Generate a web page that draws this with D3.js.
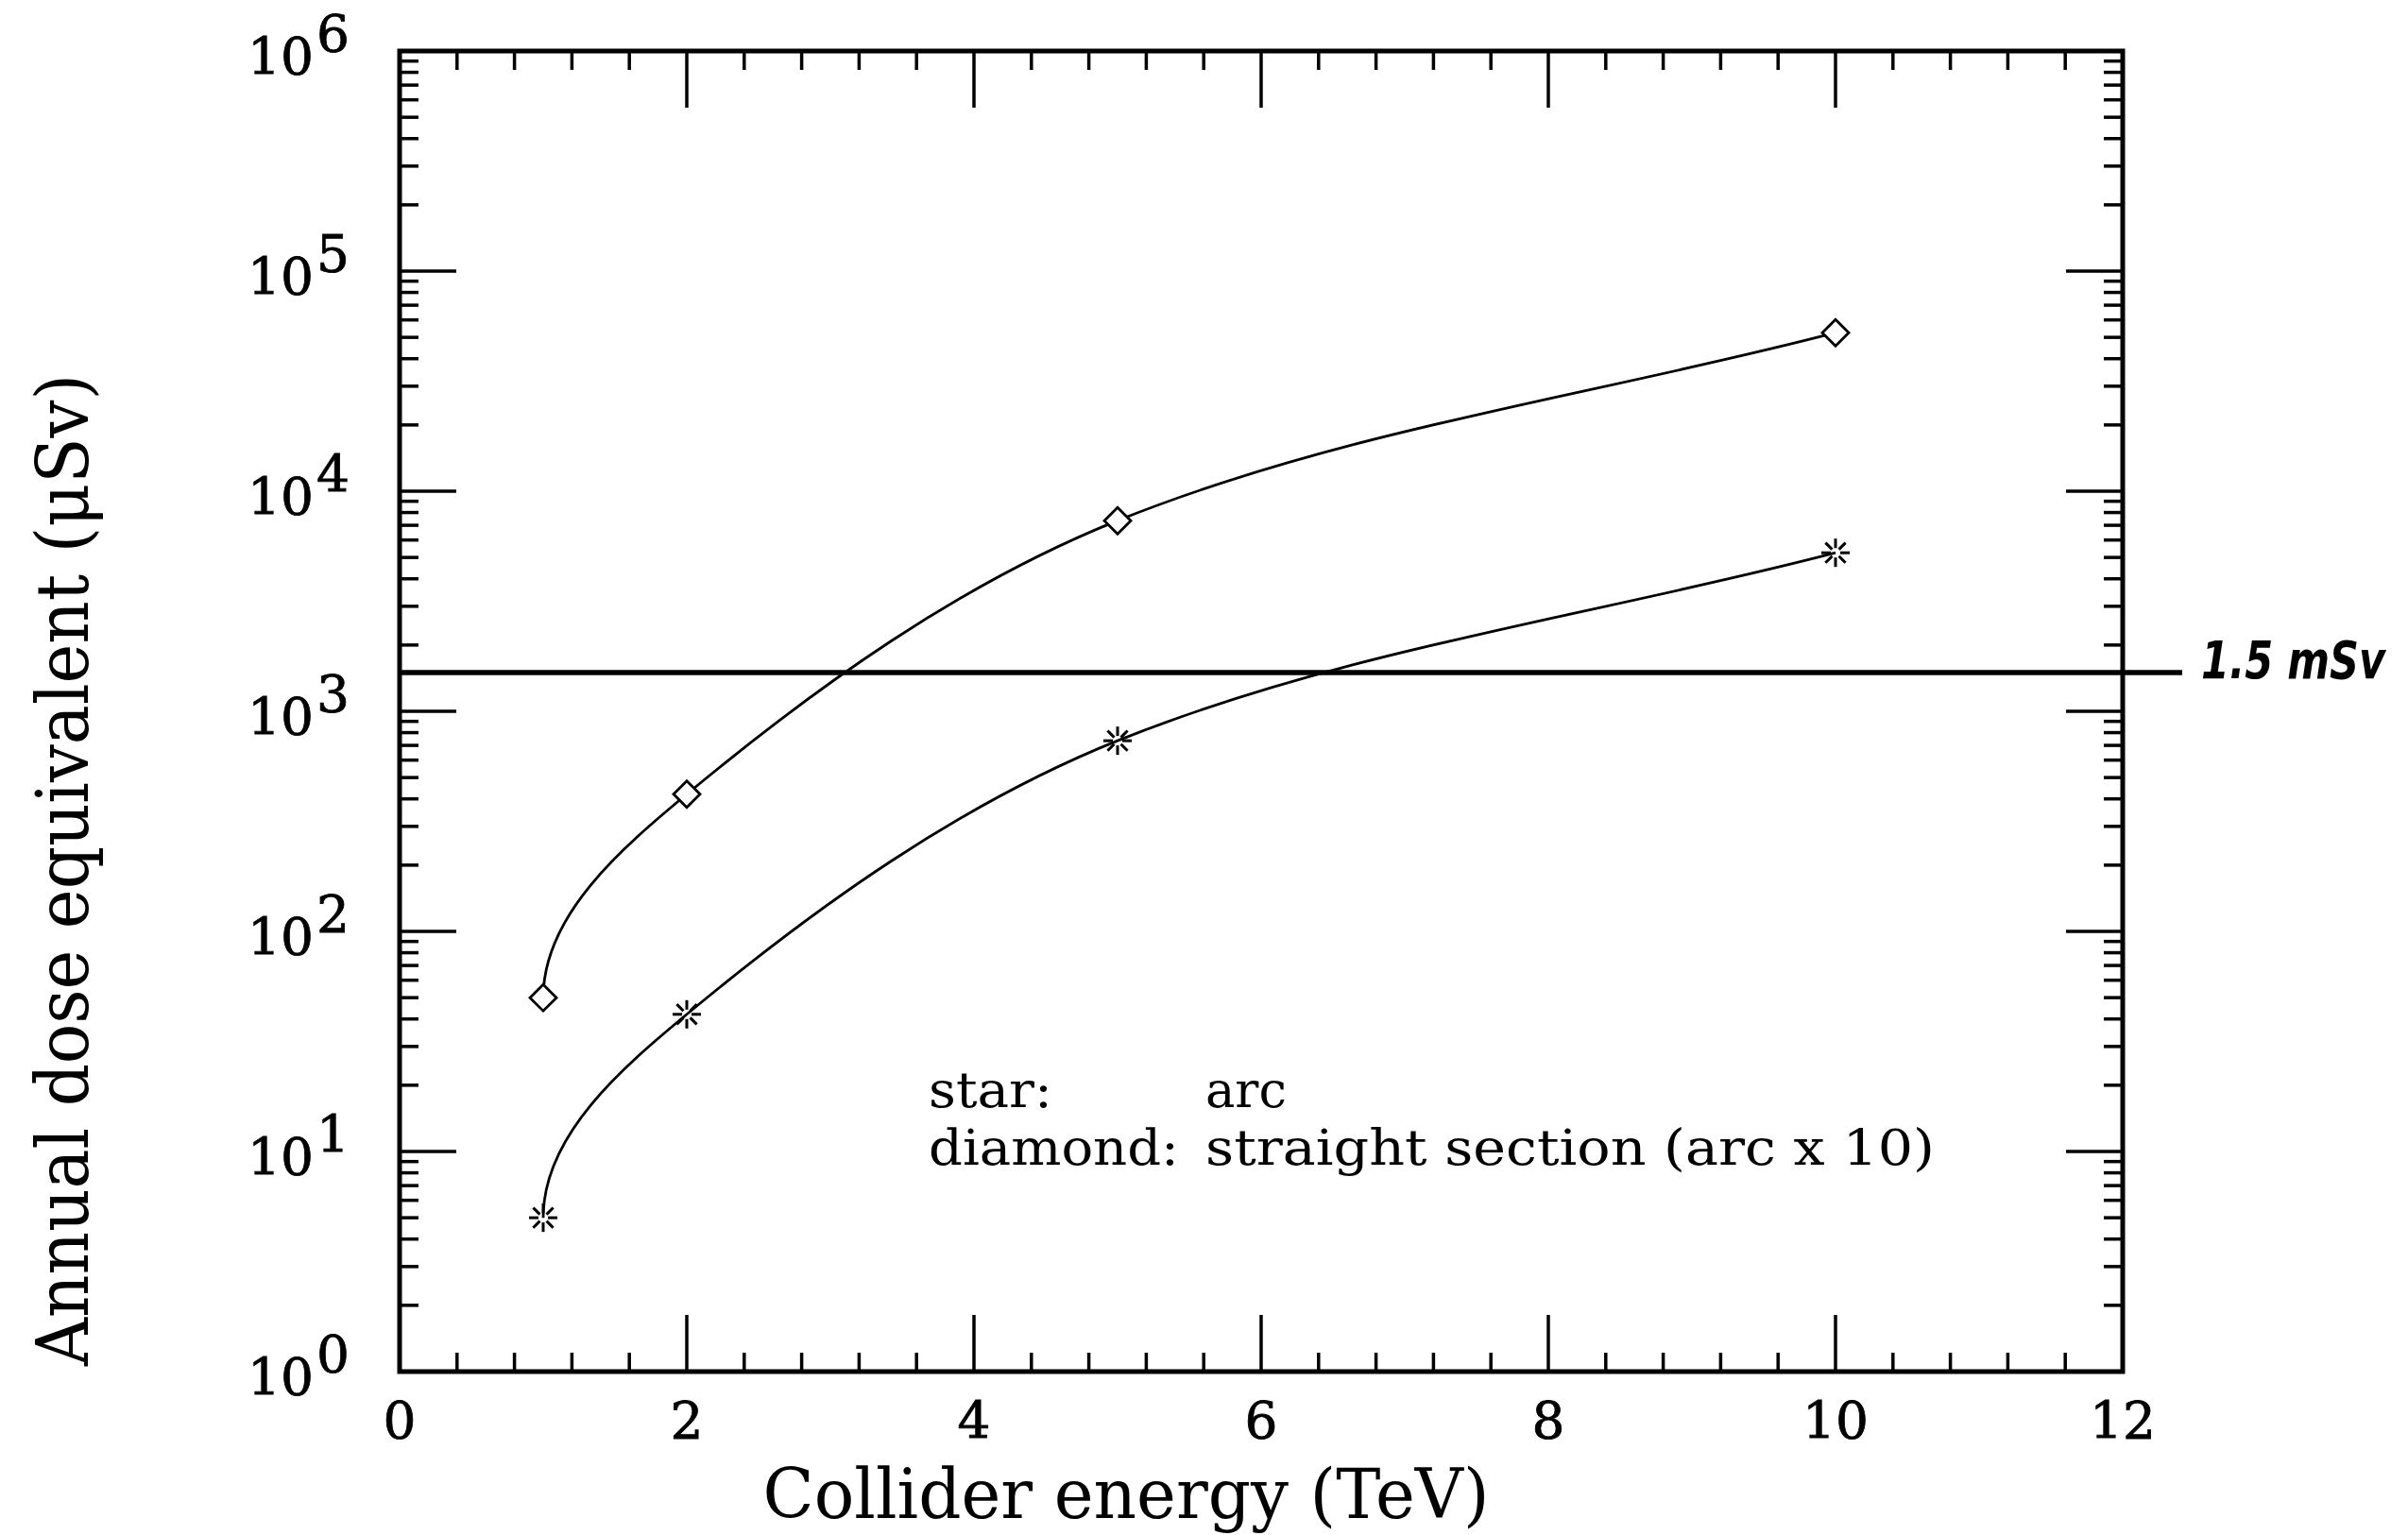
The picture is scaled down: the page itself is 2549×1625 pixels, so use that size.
<!DOCTYPE html>
<html>
<head>
<meta charset="utf-8">
<script src="https://cdn.jsdelivr.net/npm/d3@7"></script>
<style>
  html, body { margin: 0; padding: 0; background: #ffffff; }
  svg { display: block; }
</style>
</head>
<body>
<svg id="chart" width="2549" height="1625"></svg>
<script>
// ---------------- data ----------------
const energies = [1, 2, 5, 10];                 // Collider energy (TeV)
const arcDose = [5, 42, 735, 5250];             // star: arc (µSv)
const straightDose = [50, 420, 7350, 52500];    // diamond: straight section (arc x 10)
const limitDose = 1500;                          // 1.5 mSv
const limitLabel = "1.5 mSv";
const xTickValues = [0, 2, 4, 6, 8, 10, 12];
const yTickExponents = [0, 1, 2, 3, 4, 5, 6];
const xLabel = "Collider energy (TeV)";
const yLabel = "Annual dose equivalent (\u03BCSv)";
const legendLines = [["star:", "arc"], ["diamond:", "straight section (arc x 10)"]];

// ---------------- layout ----------------
const L = 423, R = 2247, T = 54, B = 1452;
const svg = d3.select("#chart");
const x = d3.scaleLinear().domain([0, 12]).range([L, R]);
const y = d3.scaleLog().domain([1, 1e6]).range([B, T]);
const serif = "'DejaVu Serif', serif";

// custom spline: passes through the points, vertical start tangent
function ClampedSpline(context) { this._context = context; }
ClampedSpline.prototype = {
  areaStart() { this._line = 0; },
  areaEnd() { this._line = NaN; },
  lineStart() { this._xs = []; this._ys = []; },
  point(px, py) { this._xs.push(+px); this._ys.push(+py); },
  lineEnd() {
    const xs = this._xs, ys = this._ys, n = xs.length, c = this._context;
    if (!n) return;
    c.moveTo(xs[0], ys[0]);
    if (n === 1) return;
    const dirs = [];
    for (let i = 0; i < n; i++) {
      let dx, dy;
      if (i === 0) { dx = 0; dy = Math.sign(ys[1] - ys[0]) || -1; }
      else if (i === n - 1) { dx = xs[i] - xs[i - 1]; dy = ys[i] - ys[i - 1]; }
      else { dx = xs[i + 1] - xs[i - 1]; dy = ys[i + 1] - ys[i - 1]; }
      const m = Math.hypot(dx, dy) || 1;
      dirs.push([dx / m, dy / m]);
    }
    for (let i = 0; i < n - 1; i++) {
      const len = Math.hypot(xs[i + 1] - xs[i], ys[i + 1] - ys[i]) / 3;
      c.bezierCurveTo(
        xs[i] + dirs[i][0] * len, ys[i] + dirs[i][1] * len,
        xs[i + 1] - dirs[i + 1][0] * len, ys[i + 1] - dirs[i + 1][1] * len,
        xs[i + 1], ys[i + 1]);
    }
  }
};
const curveClamped = ctx => new ClampedSpline(ctx);

const g = svg.append("g");

// ---------------- ticks ----------------
const majLen = 60, minLen = 20;
const ticks = g.append("g").attr("stroke", "#000").attr("stroke-width", 3.5);
const xMinor = d3.range(0, 12.0001, 0.4).filter(v => Math.abs(v / 2 - Math.round(v / 2)) > 1e-6);
xTickValues.forEach(v => {
  ticks.append("line").attr("x1", x(v)).attr("x2", x(v)).attr("y1", B).attr("y2", B - majLen);
  ticks.append("line").attr("x1", x(v)).attr("x2", x(v)).attr("y1", T).attr("y2", T + majLen);
});
xMinor.forEach(v => {
  ticks.append("line").attr("x1", x(v)).attr("x2", x(v)).attr("y1", B).attr("y2", B - minLen);
  ticks.append("line").attr("x1", x(v)).attr("x2", x(v)).attr("y1", T).attr("y2", T + minLen);
});
yTickExponents.forEach(e => {
  const v = Math.pow(10, e);
  ticks.append("line").attr("x1", L).attr("x2", L + majLen).attr("y1", y(v)).attr("y2", y(v));
  ticks.append("line").attr("x1", R).attr("x2", R - majLen).attr("y1", y(v)).attr("y2", y(v));
  if (e < 6) {
    for (let k = 2; k <= 9; k++) {
      const mv = k * v;
      ticks.append("line").attr("x1", L).attr("x2", L + minLen).attr("y1", y(mv)).attr("y2", y(mv));
      ticks.append("line").attr("x1", R).attr("x2", R - minLen).attr("y1", y(mv)).attr("y2", y(mv));
    }
  }
});

// frame
g.append("rect").attr("x", L).attr("y", T).attr("width", R - L).attr("height", B - T)
  .attr("fill", "none").attr("stroke", "#000").attr("stroke-width", 5);

// ---------------- tick labels ----------------
const xl = g.append("g").attr("font-family", serif).attr("font-size", 55).attr("fill", "#000")
  .attr("stroke", "#000").attr("stroke-width", 0.8);
xTickValues.forEach(v => {
  xl.append("text").attr("x", x(v)).attr("y", B + 71).attr("text-anchor", "middle").text(v);
});
yTickExponents.forEach(e => {
  const t = xl.append("text").attr("x", 262).attr("y", y(Math.pow(10, e)) + 25);
  t.append("tspan").text("10");
  t.append("tspan").attr("dx", 3).attr("dy", -24).text(e);
});

// ---------------- axis titles ----------------
g.append("text").attr("x", 1192).attr("y", 1607).attr("text-anchor", "middle")
  .attr("font-family", serif).attr("font-size", 72)
  .attr("textLength", 769).attr("lengthAdjust", "spacingAndGlyphs").text(xLabel);
g.append("text").attr("transform", "translate(93,921) rotate(-90)").attr("text-anchor", "middle")
  .attr("font-family", serif).attr("font-size", 76)
  .attr("textLength", 1050).attr("lengthAdjust", "spacingAndGlyphs").text(yLabel);

// ---------------- 1.5 mSv line ----------------
g.append("line").attr("x1", L).attr("x2", 2310).attr("y1", y(limitDose)).attr("y2", y(limitDose))
  .attr("stroke", "#000").attr("stroke-width", 5.5);
g.append("text").attr("transform", `translate(2330,${y(limitDose) + 6}) scale(1,1.3)`)
  .attr("font-family", "'DejaVu Sans', sans-serif").attr("font-weight", "bold").attr("font-style", "italic")
  .attr("font-size", 43)
  .text(limitLabel);

// ---------------- curves ----------------
const line = d3.line().x(d => x(d[0])).y(d => y(d[1])).curve(curveClamped);
const arcPts = energies.map((e, i) => [e, arcDose[i]]);
const strPts = energies.map((e, i) => [e, straightDose[i]]);
[arcPts, strPts].forEach(pts => {
  g.append("path").attr("d", line(pts)).attr("fill", "none").attr("stroke", "#000").attr("stroke-width", 2.8);
});

// diamonds
const dm = 14;
g.append("g").selectAll("path").data(strPts).join("path")
  .attr("d", d => {
    const cx = x(d[0]), cy = y(d[1]);
    return `M${cx},${cy - dm}L${cx + dm},${cy}L${cx},${cy + dm}L${cx - dm},${cy}Z`;
  })
  .attr("fill", "#fff").attr("stroke", "#000").attr("stroke-width", 2.8);

// stars (open-centre asterisks)
const starG = g.append("g").attr("stroke", "#000").attr("stroke-width", 3);
arcPts.forEach(d => {
  const cx = x(d[0]), cy = y(d[1]);
  for (let a = 0; a < 8; a++) {
    const ang = a * Math.PI / 4;
    const c = Math.cos(ang), s = Math.sin(ang);
    starG.append("line").attr("x1", cx + 5 * c).attr("y1", cy + 5 * s)
      .attr("x2", cx + 15 * c).attr("y2", cy + 15 * s);
  }
});

// ---------------- legend text ----------------
const lg = g.append("g").attr("font-family", serif).attr("font-size", 52).attr("fill", "#000");
lg.append("text").attr("x", 983).attr("y", 1172).attr("textLength", 131).attr("lengthAdjust", "spacingAndGlyphs").text(legendLines[0][0]);
lg.append("text").attr("x", 1276).attr("y", 1172).attr("textLength", 86).attr("lengthAdjust", "spacingAndGlyphs").text(legendLines[0][1]);
lg.append("text").attr("x", 983).attr("y", 1233).attr("textLength", 265).attr("lengthAdjust", "spacingAndGlyphs").text(legendLines[1][0]);
lg.append("text").attr("x", 1276).attr("y", 1233).attr("textLength", 772).attr("lengthAdjust", "spacingAndGlyphs").text(legendLines[1][1]);
</script>
</body>
</html>
